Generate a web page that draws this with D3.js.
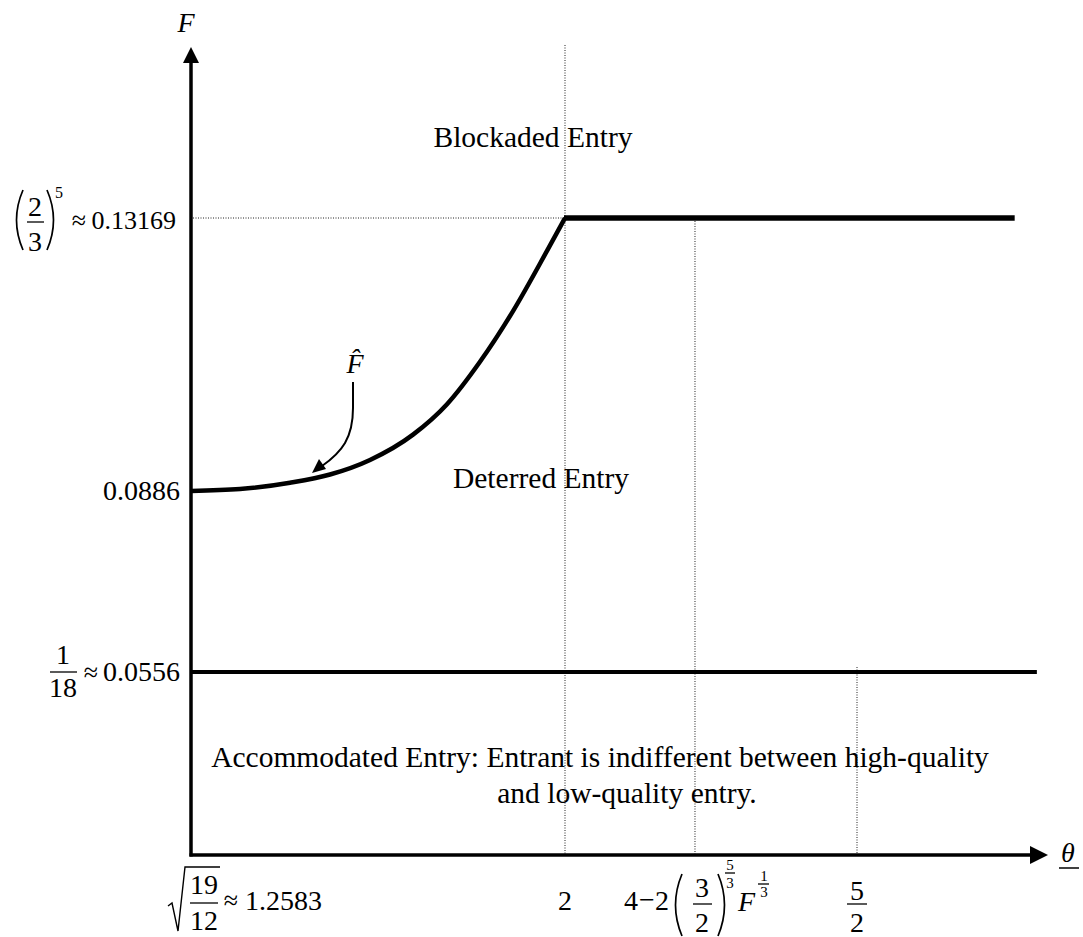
<!DOCTYPE html>
<html>
<head>
<meta charset="utf-8">
<script src="https://cdn.jsdelivr.net/npm/d3@7"></script>
<style>
body { margin: 0; background: #fff; }
text { font-family: "Liberation Serif", "Times New Roman", serif; fill: #000; }
</style>
</head>
<body>
<script>
//width and height
var w = 1083;
var h = 937;

//theta values marked on the horizontal axis
var thetaTicks = [1.2583, 2, 2.2226, 2.5];
//F values marked on the vertical axis
var fTicks = [0.0556, 0.0886, 0.13169];

//F-hat boundary
var curveTheta = [1.2583, 1.3555, 1.4546, 1.5340, 1.6133, 1.6986, 1.7660, 1.8314, 1.8969, 1.9643, 2.0];
var curveF     = [0.0886, 0.0889, 0.0899, 0.0912, 0.0935, 0.0975, 0.1023, 0.1090, 0.1170, 0.1265, 0.13169];

//flat boundaries
var blockadedTheta = [2.0, 2.77];
var blockadedF = 0.13169;
var accommodatedTheta = [1.2583, 2.808];
var accommodatedF = 0.0556;

//region names
var regionNames = ["Blockaded Entry", "Deterred Entry",
    "Accommodated Entry: Entrant is indifferent between high-quality",
    "and low-quality entry."];

//the drawing is schematic, so both scales are piecewise linear
var x = d3.scaleLinear()
    .domain([thetaTicks[0], thetaTicks[1], thetaTicks[3]])
    .range([191, 565, 857]);
var y = d3.scaleLinear()
    .domain(fTicks)
    .range([672, 491, 218]);

var x0 = x(thetaTicks[0]);
var y0 = 855;

var svg = d3.select("body")
    .append("svg")
    .attr("width", w)
    .attr("height", h);

//dotted guide lines
var dotted = svg.append("g")
    .attr("stroke", "#222")
    .attr("stroke-width", 1)
    .attr("stroke-dasharray", "1,1.5");

dotted.append("line")
    .attr("x1", x(thetaTicks[1])).attr("x2", x(thetaTicks[1]))
    .attr("y1", 45).attr("y2", y0);
dotted.append("line")
    .attr("x1", x(thetaTicks[2])).attr("x2", x(thetaTicks[2]))
    .attr("y1", y(blockadedF) + 3).attr("y2", y0);
dotted.append("line")
    .attr("x1", x(thetaTicks[3])).attr("x2", x(thetaTicks[3]))
    .attr("y1", y(accommodatedF) - 5).attr("y2", y0);
dotted.append("line")
    .attr("x1", x0 + 2).attr("x2", x(thetaTicks[1]))
    .attr("y1", y(fTicks[2])).attr("y2", y(fTicks[2]));

//axes with arrow heads
svg.append("line")
    .attr("x1", x0).attr("x2", x0)
    .attr("y1", y0 + 1.5).attr("y2", 62)
    .attr("stroke", "#000").attr("stroke-width", 3.5);
svg.append("path")
    .attr("d", "M" + (x0 - 8) + ",63L" + (x0 + 8) + ",63L" + x0 + ",47Z")
    .attr("fill", "#000");
svg.append("line")
    .attr("x1", x0 - 1.5).attr("x2", 1032)
    .attr("y1", y0).attr("y2", y0)
    .attr("stroke", "#000").attr("stroke-width", 3.5);
svg.append("path")
    .attr("d", "M1030," + (y0 - 9) + "L1030," + (y0 + 9) + "L1048," + y0 + "Z")
    .attr("fill", "#000");

//F-hat curve
var curvePts = curveTheta.map(function(t, i) { return [t, curveF[i]]; });
var line = d3.line()
    .x(function(d) { return x(d[0]); })
    .y(function(d) { return y(d[1]); })
    .curve(d3.curveMonotoneX);

svg.append("path")
    .attr("d", line(curvePts))
    .attr("fill", "none")
    .attr("stroke", "#000")
    .attr("stroke-width", 4.5)
    .attr("stroke-linejoin", "round");

//blockaded boundary
svg.append("line")
    .attr("x1", x(blockadedTheta[0]) - 1).attr("x2", x(blockadedTheta[1]))
    .attr("y1", y(blockadedF)).attr("y2", y(blockadedF))
    .attr("stroke", "#000").attr("stroke-width", 5.5);

//accommodated boundary
svg.append("line")
    .attr("x1", x(accommodatedTheta[0])).attr("x2", x(accommodatedTheta[1]))
    .attr("y1", y(accommodatedF)).attr("y2", y(accommodatedF))
    .attr("stroke", "#000").attr("stroke-width", 4);

//small helpers for the math labels
function txt(px, py, s, size, anchor, italic) {
    return svg.append("text")
        .attr("x", px).attr("y", py)
        .attr("font-size", size)
        .attr("text-anchor", anchor || "middle")
        .attr("font-style", italic ? "italic" : "normal")
        .text(s);
}
function bar(xa, xb, py) {
    svg.append("line")
        .attr("x1", xa).attr("x2", xb).attr("y1", py).attr("y2", py)
        .attr("stroke", "#000").attr("stroke-width", 1.3);
}
function paren(px, top, bottom, left) {
    var mid = (top + bottom) / 2;
    var bend = left ? -13 : 13;
    svg.append("path")
        .attr("d", "M" + px + "," + top + "Q" + (px + bend) + "," + mid + " " + px + "," + bottom)
        .attr("fill", "none").attr("stroke", "#000").attr("stroke-width", 1.7);
}

var fs = 28;

//axis names
txt(x0 - 5, 32, "F", fs, "middle", true);
txt(1068, 862, "\u03b8", fs, "middle", true);
svg.append("line")
    .attr("x1", 1059).attr("x2", 1079).attr("y1", 868).attr("y2", 868)
    .attr("stroke", "#000").attr("stroke-width", 1.5);

//y label (2/3)^5 = 0.13169
var yy = y(fTicks[2]);
paren(23, yy - 28, yy + 32, true);
txt(35, yy - 2, "2", fs);
bar(27, 44, yy + 4);
txt(35, yy + 33, "3", fs);
paren(47, yy - 28, yy + 32, false);
txt(55, yy - 20, "5", 16, "start");
txt(79, yy + 11, "\u2248", 26);
txt(176, yy + 11, "0.13169", 26, "end");

//y label 0.0886
txt(180, y(fTicks[1]) + 9, "0.0886", fs, "end");

//y label 1/18 = 0.0556
yy = y(fTicks[0]);
txt(63, yy - 8, "1", fs);
bar(50, 77, yy);
txt(63, yy + 25, "18", fs);
txt(91, yy + 9, "\u2248", 26);
txt(180, yy + 9, "0.0556", fs, "end");

//x label sqrt(19/12) = 1.2583
var xl = 910;
svg.append("path")
    .attr("d", "M" + (x0 - 23) + ",906L" + (x0 - 19) + ",903L" + (x0 - 13) + ",931L" + (x0 - 6) + ",867L" + (x0 + 29) + ",867")
    .attr("fill", "none").attr("stroke", "#000").attr("stroke-width", 1.4);
txt(x0 + 13, 894, "19", fs);
bar(x0 - 1, x0 + 27, 903);
txt(x0 + 13, 930, "12", fs);
txt(x0 + 40, xl - 1, "\u2248", 26);
txt(x0 + 54, xl, "1.2583", fs, "start");

//x label 2
txt(x(thetaTicks[1]), xl, "2", fs);

//x label 4 - 2(3/2)^(5/3) F^(1/3)
var xx = x(thetaTicks[2]);
txt(xx - 71, xl, "4", fs, "start");
txt(xx - 48, xl - 1, "\u2212", fs);
txt(xx - 40, xl, "2", fs, "start");
paren(xx - 13, 874, 936, true);
txt(xx + 7, 897, "3", fs);
bar(xx - 2, xx + 17, 904);
txt(xx + 7, 932, "2", fs);
paren(xx + 23, 874, 936, false);
txt(xx + 35, 870, "5", 15);
bar(xx + 30, xx + 40, 873);
txt(xx + 35, 888, "3", 15);
txt(xx + 43, 911, "F", fs, "start", true);
txt(xx + 69, 881, "1", 15);
bar(xx + 63, xx + 74, 884);
txt(xx + 69, 897, "3", 15);

//x label 5/2
xx = x(thetaTicks[3]);
txt(xx, 900, "5", fs);
bar(xx - 10, xx + 10, 904);
txt(xx, 932, "2", fs);

//region names
var rs = 29.5;
txt(533, 147, regionNames[0], rs);
txt(541, 488, regionNames[1], rs);
txt(600, 767, regionNames[2], rs);
txt(627, 803, regionNames[3], rs);

//F-hat label (combining circumflex keeps it one text) with its arrow
txt(355, 373, "F\u0302", fs, "middle", true);

svg.append("path")
    .attr("d", "M353,382L353,408C353,438 342,452 322,466")
    .attr("fill", "none").attr("stroke", "#000").attr("stroke-width", 2);
svg.append("path")
    .attr("d", "M312,473L326,469L319,459Z")
    .attr("fill", "#000");
</script>
</body>
</html>
